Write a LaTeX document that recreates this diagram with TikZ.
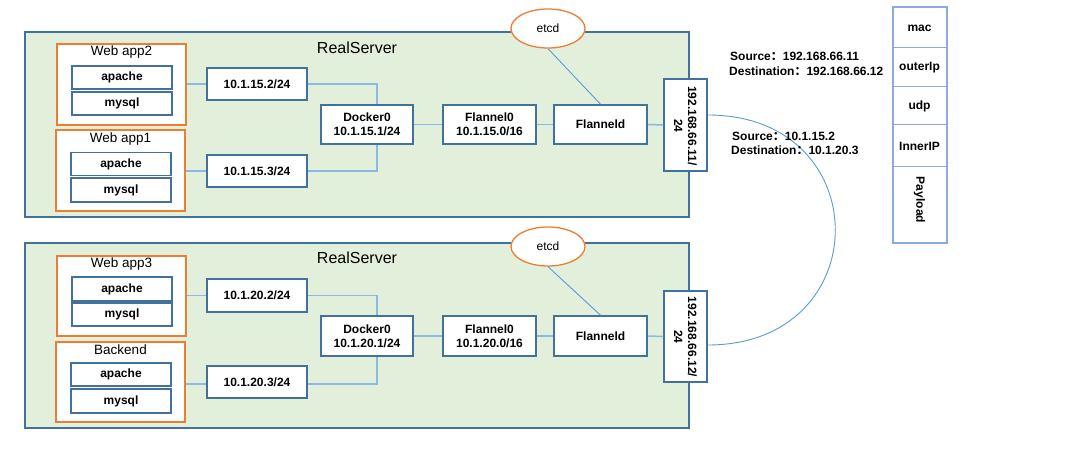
\documentclass[tikz,border=0pt]{standalone}
\usepackage{fontspec}
\setmainfont{Liberation Sans}
\newfontfamily\cjk{Noto Sans CJK SC}
\usetikzlibrary{shapes.geometric}
\definecolor{srvgreen}{RGB}{226,239,218}
\definecolor{srvblue}{RGB}{65,113,156}
\definecolor{boxblue}{RGB}{65,113,156}
\definecolor{apporange}{RGB}{237,125,49}
\definecolor{lineblue}{RGB}{140,185,225}
\definecolor{curveblue}{RGB}{91,155,213}
\definecolor{pktblue}{RGB}{142,169,219}
\begin{document}
\begin{tikzpicture}[x=1pt,y=-1pt,
  server/.style={draw=srvblue,fill=srvgreen,line width=1.5pt,rectangle,inner sep=0pt},
  appbox/.style={draw=apporange,fill=white,line width=1.8pt,rectangle,inner sep=0pt},
  comp/.style={draw=boxblue,fill=white,line width=1.6pt,rectangle,inner sep=0pt,
     font=\fontsize{12}{14}\selectfont\bfseries,align=center},
  etcdnode/.style={draw=apporange,fill=white,ellipse,line width=1.3pt,inner sep=0pt,
     minimum width=74pt,minimum height=39pt,font=\fontsize{12}{14}\selectfont},
  lnk/.style={draw=lineblue,line width=1.5pt},
  thinlnk/.style={draw=curveblue,line width=0.9pt},
  title/.style={font=\fontsize{13.5}{16}\selectfont,inner sep=0pt},
  srvtitle/.style={font=\fontsize{16}{19}\selectfont,inner sep=0pt},
  pktcell/.style={draw=pktblue,line width=1pt,fill=white,rectangle,inner sep=0pt,
     minimum width=53pt,font=\fontsize{12}{14}\selectfont\bfseries},
  info/.style={anchor=west,inner sep=0pt,font=\fontsize{12}{14}\selectfont\bfseries}
]
\useasboundingbox (0,0) rectangle (1068,449);
\fill[white] (0,0) rectangle (1068,449);

% ---------- top server ----------
\node[server,minimum width=664pt,minimum height=185pt] (s1) at (357,124.5) {};
\node[srvtitle] (s1t) at (357,48) {RealServer};
\node[appbox,minimum width=129pt,minimum height=81pt] (app2) at (121.5,84.5) {};
\node[title] (app2t) at (121.5,52) {Web app2};
\node[comp,minimum width=100pt,minimum height=23pt] (a2ap) at (122,77.5) {apache};
\node[comp,minimum width=100pt,minimum height=23pt] (a2my) at (122,103.5) {mysql};
\node[appbox,minimum width=129pt,minimum height=81pt] (app1) at (120.5,170.5) {};
\node[title] (app1t) at (120.5,139) {Web app1};
\node[comp,minimum width=100pt,minimum height=23pt] (a1ap) at (121,164) {apache};
\node[comp,minimum width=100pt,minimum height=24pt] (a1my) at (121,190) {mysql};
\node[comp,minimum width=100pt,minimum height=32pt] (ip152) at (257,84) {10.1.15.2/24};
\node[comp,minimum width=100pt,minimum height=32pt] (ip153) at (257,171) {10.1.15.3/24};
\node[comp,minimum width=92pt,minimum height=39pt] (d1) at (367,124.5) {Docker0\\10.1.15.1/24};
\node[comp,minimum width=93pt,minimum height=39pt] (f1) at (489.5,124.5) {Flannel0\\10.1.15.0/16};
\node[comp,minimum width=93pt,minimum height=39pt] (fd1) at (600.5,124.5) {Flanneld};
\node[comp,minimum width=43pt,minimum height=92pt] (ipA) at (685.5,125) {};
\node[rotate=-90,align=center,inner sep=0pt,font=\fontsize{12}{14}\selectfont\bfseries] (ipAt) at (685.5,126) {192.168.66.11/\\24};
\node[etcdnode] (etcd1) at (548,28.5) {etcd};

% ---------- bottom server ----------
\node[server,minimum width=664pt,minimum height=185pt] (s2) at (357,335.5) {};
\node[srvtitle] (s2t) at (357,258) {RealServer};
\node[appbox,minimum width=129pt,minimum height=80pt] (app3) at (121.5,296) {};
\node[title] (app3t) at (121.5,264) {Web app3};
\node[comp,minimum width=100pt,minimum height=24pt] (a3ap) at (122,289) {apache};
\node[comp,minimum width=100pt,minimum height=23pt] (a3my) at (122,314.5) {mysql};
\node[appbox,minimum width=129pt,minimum height=80pt] (back) at (120.5,382) {};
\node[title] (backt) at (120.5,350) {Backend};
\node[comp,minimum width=100pt,minimum height=23pt] (bap) at (121,374.5) {apache};
\node[comp,minimum width=100pt,minimum height=24pt] (bmy) at (121,401) {mysql};
\node[comp,minimum width=100pt,minimum height=33pt] (ip202) at (257,295.5) {10.1.20.2/24};
\node[comp,minimum width=100pt,minimum height=32pt] (ip203) at (257,382) {10.1.20.3/24};
\node[comp,minimum width=92pt,minimum height=40pt] (d2) at (367,336) {Docker0\\10.1.20.1/24};
\node[comp,minimum width=93pt,minimum height=40pt] (f2) at (489.5,336) {Flannel0\\10.1.20.0/16};
\node[comp,minimum width=93pt,minimum height=40pt] (fd2) at (600.5,336) {Flanneld};
\node[comp,minimum width=43pt,minimum height=91pt] (ipB) at (685.5,336.5) {};
\node[rotate=-90,align=center,inner sep=0pt,font=\fontsize{12}{14}\selectfont\bfseries] (ipBt) at (685.5,337) {192.168.66.12/\\24};
\node[etcdnode] (etcd2) at (548,246.5) {etcd};

% ---------- connectors ----------
\draw[lnk] (ip152.west -| app2.east) -- (ip152.west);
\draw[lnk] (ip153.west -| app1.east) -- (ip153.west);
\draw[lnk] (ip152.east) -| ([xshift=10pt]d1.north);
\draw[lnk] ([xshift=10pt]d1.south) |- (ip153.east);
\draw[lnk] (d1.east) -- (f1.west);
\draw[lnk] (f1.east) -- (fd1.west);
\draw[lnk] (fd1.east) -- (ipA.west);
\draw[thinlnk] (etcd1.south) -- (fd1.north);

\draw[lnk] (ip202.west -| app3.east) -- (ip202.west);
\draw[lnk] ([yshift=-2pt]ip203.west -| back.east) -- ([yshift=-2pt]ip203.west);
\draw[lnk] (ip202.east) -| ([xshift=10pt]d2.north);
\draw[lnk] ([xshift=10pt]d2.south) |- ([yshift=-2pt]ip203.east);
\draw[lnk] (d2.east) -- (f2.west);
\draw[lnk] (f2.east) -- (fd2.west);
\draw[lnk] (fd2.east) -- (ipB.west);
\draw[thinlnk] (etcd2.south) -- (fd2.north);

\coordinate (cA) at ([yshift=10pt]ipA.east);
\coordinate (cB) at ([yshift=-8.5pt]ipB.east);
\draw[thinlnk] (cA) .. controls +(170,0) and +(170,0) .. (cB);

% ---------- packet info ----------
\node[info] (src1) at (730,56) {Source{\cjk ：}192.168.66.11};
\node[info] (dst1) at (729,71) {Destination{\cjk ：}192.168.66.12};
\node[info] (src2) at (732,136) {Source{\cjk ：}10.1.15.2};
\node[info] (dst2) at (731,150) {Destination{\cjk ：}10.1.20.3};

% ---------- packet stack ----------
\node[pktcell,minimum height=40pt] (mac) at (919.5,28) {mac};
\node[pktcell,minimum height=39pt] (outer) at (919.5,67.5) {outerIp};
\node[pktcell,minimum height=38pt] (udp) at (919.5,106) {udp};
\node[pktcell,minimum height=42pt] (inner) at (919.5,146) {InnerIP};
\node[pktcell,minimum height=75pt] (pay) at (919.5,204.5) {};
\node[rotate=-90,inner sep=0pt,font=\fontsize{12}{14}\selectfont\bfseries] (payt) at (919.5,200) {Payload};
\draw[draw=pktblue,line width=2pt] (mac.north west) rectangle (pay.south east);
\end{tikzpicture}
\end{document}
